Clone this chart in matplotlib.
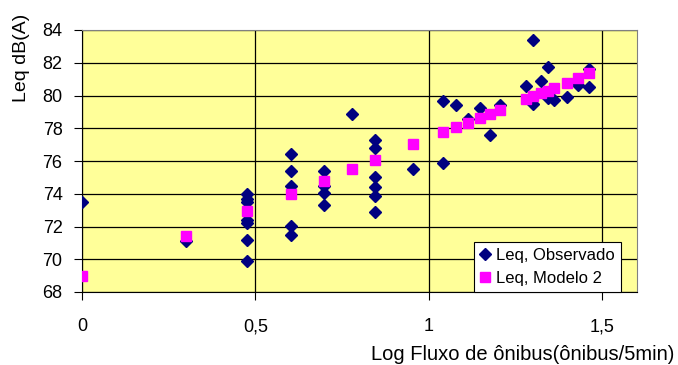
import matplotlib
matplotlib.use("Agg")
import matplotlib.pyplot as plt

plt.rcParams["font.family"] = ["Liberation Sans", "DejaVu Sans"]

# Observed Leq (log of bus flow, dB(A))
obs_x = [0.0, 0.301,
         0.477, 0.477, 0.477, 0.477, 0.477, 0.477, 0.477,
         0.602, 0.602, 0.602, 0.602, 0.602,
         0.699, 0.699, 0.699, 0.699,
         0.778,
         0.845, 0.845, 0.845, 0.845, 0.845, 0.845,
         0.954,
         1.041, 1.041, 1.079, 1.114, 1.146, 1.176, 1.204,
         1.279, 1.301, 1.301, 1.322, 1.342, 1.342, 1.362,
         1.398, 1.431, 1.462, 1.462]
obs_y = [73.5, 71.1,
         74.0, 73.7, 73.5, 72.4, 72.2, 71.2, 69.9,
         76.4, 75.4, 74.5, 72.05, 71.5,
         75.4, 74.5, 74.05, 73.3,
         78.9,
         77.3, 76.8, 75.0, 74.4, 73.85, 72.9,
         75.5,
         79.65, 75.9, 79.45, 78.55, 79.25, 77.6, 79.45,
         80.6, 83.4, 79.5, 80.9, 81.75, 79.85, 79.7,
         79.9, 80.65, 81.6, 80.5]

# Model 2 predictions
mod_x = [0.0, 0.301, 0.477, 0.602, 0.699, 0.778, 0.845, 0.954,
         1.041, 1.079, 1.114, 1.146, 1.176, 1.204,
         1.279, 1.301, 1.322, 1.342, 1.362, 1.398, 1.431, 1.462]
mod_y = [69.0, 71.45, 72.95, 74.0, 74.8, 75.5, 76.05, 77.05,
         77.75, 78.05, 78.3, 78.6, 78.9, 79.1,
         79.8, 79.95, 80.15, 80.3, 80.45, 80.75, 81.05, 81.35]

xticks = [0, 0.5, 1, 1.5]
xtick_labels = ["0", "0,5", "1", "1,5"]
yticks = [68, 70, 72, 74, 76, 78, 80, 82, 84]

fig = plt.figure(figsize=(6.78, 3.65), dpi=100)
ax = fig.add_axes([82 / 678, 1 - 292 / 365, 555 / 678, 262 / 365])
ax.set_facecolor("#FFFF99")

ax.plot(obs_x, obs_y, linestyle="none", marker="D", markersize=6,
        color="#000080", label="Leq, Observado", zorder=3)
ax.plot(mod_x, mod_y, linestyle="none", marker="s", markersize=6.5,
        color="#FF00FF", label="Leq, Modelo 2", zorder=4)

ax.set_xlim(0, 1.6)
ax.set_ylim(68, 84)
ax.set_xticks(xticks)
ax.set_xticklabels(xtick_labels)
ax.set_yticks(yticks)
ax.grid(True, color="black", linewidth=0.9)
ax.set_axisbelow(True)
ax.tick_params(axis="x", length=6, pad=13, labelsize=13, color="black")
ax.tick_params(axis="y", length=6, pad=8, labelsize=13, color="black")

for side in ["top", "right"]:
    ax.spines[side].set_color("#808080")
for side in ["left", "bottom"]:
    ax.spines[side].set_color("black")

leg = ax.legend(loc="lower left", bbox_to_anchor=(0.706, 0.0), borderaxespad=0,
                fancybox=False, framealpha=1, edgecolor="black", fontsize=12,
                handlelength=0.6, handletextpad=0.4, borderpad=0.35, labelspacing=0.5)
leg.get_frame().set_linewidth(0.8)

fig.text(22 / 678, 1 - 58 / 365, "Leq dB(A)", rotation=90, ha="center", va="center",
         fontsize=14)
fig.text(674 / 678, 1 - 354 / 365, "Log Fluxo de ônibus(ônibus/5min)", ha="right",
         va="center", fontsize=14.5)

fig.savefig("out.png", dpi=100)
